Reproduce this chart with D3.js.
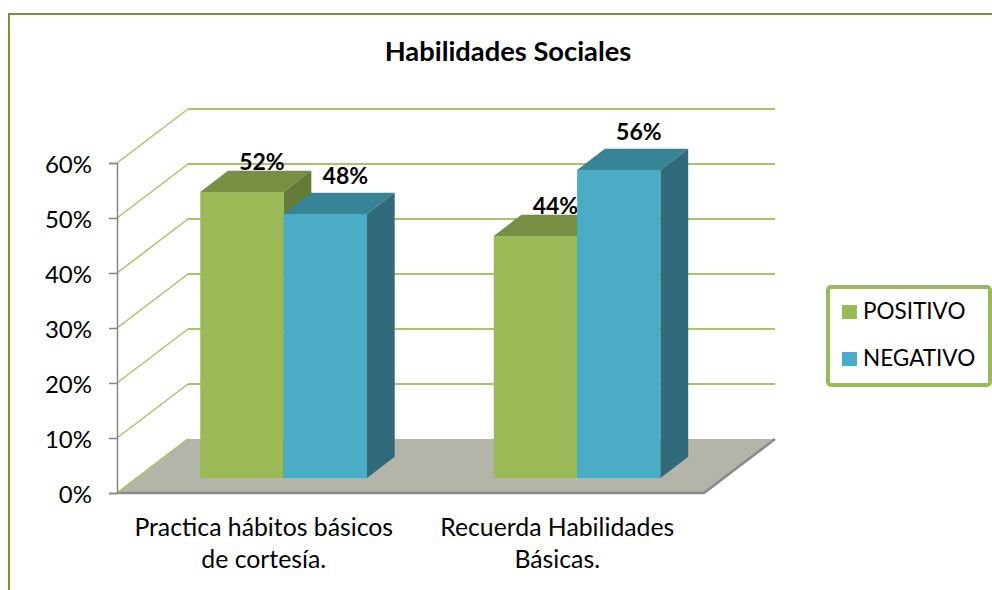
<!DOCTYPE html>
<html>
<head>
<meta charset="utf-8">
<script src="https://cdn.jsdelivr.net/npm/d3@7"></script>
<style>
  body { margin: 0; background: #fff; }
  svg { display: block; font-family: Lato, "Noto Sans", sans-serif; }
</style>
</head>
<body>
<div id="chart"></div>
<script>
// data
const title = "Habilidades Sociales";
const categories = ["Practica hábitos básicos de cortesía.", "Recuerda Habilidades Básicas."];
const seriesNames = ["POSITIVO", "NEGATIVO"];
const positivo = [0.52, 0.44];
const negativo = [0.48, 0.56];
const yTicks = [0, 0.1, 0.2, 0.3, 0.4, 0.5, 0.6];

const width = 992, height = 590;
const colors = {
  POSITIVO: { front: "#9bbb59", top: "#778f42", side: "#637b36" },
  NEGATIVO: { front: "#4bacc6", top: "#388497", side: "#316b7b" }
};
// 3D depth offset of the back wall
const depth = { dx: 71, dy: -54 };
const barZ = [0.28, 0.67]; // bars sit in the middle of the floor depth
const labelLift = [22, 30];

const svg = d3.select("#chart").append("svg")
  .attr("width", width).attr("height", height);

// outer border (cut off at right & bottom like the screenshot)
svg.append("path")
  .attr("d", "M9,600 L9,14 L1000,14")
  .attr("fill", "none").attr("stroke", "#77933c").attr("stroke-width", 2);

svg.append("text")
  .attr("x", 508).attr("y", 61)
  .attr("text-anchor", "middle")
  .attr("font-weight", "bold").attr("font-size", 27.3)
  .text(title);

const y = d3.scaleLinear().domain([0, 0.6]).range([493, 163]);
const x = d3.scaleBand().domain(categories).range([117, 704]);
const xs = d3.scaleBand().domain(seriesNames).range([0, x.bandwidth()]).paddingOuter(0.76);

const P = (px, py, z) => [px + z * depth.dx, py + z * depth.dy];
const poly = pts => "M" + pts.map(p => p.join(",")).join("L") + "Z";

const gridColor = "#a6c46a";

// side wall grid lines
svg.append("g").selectAll("line").data(yTicks).join("line")
  .attr("x1", 117).attr("y1", d => y(d))
  .attr("x2", d => P(117, y(d), 1)[0]).attr("y2", d => P(117, y(d), 1)[1])
  .attr("stroke", gridColor).attr("stroke-width", 1.5);

// back wall grid lines
svg.append("g").selectAll("line").data(yTicks.filter(d => d > 0)).join("line")
  .attr("x1", P(117, 0, 1)[0]).attr("x2", P(704, 0, 1)[0])
  .attr("y1", d => P(0, y(d), 1)[1]).attr("y2", d => P(0, y(d), 1)[1])
  .attr("stroke", gridColor).attr("stroke-width", 2);

// floor
const y0 = y(0);
svg.append("path")
  .attr("d", poly([[117, y0], P(117, y0, 1), P(704, y0, 1), [704, y0]]))
  .attr("fill", "#b2b5a7");
svg.append("path")
  .attr("d", `M117,${y0}L704,${y0}L${P(704, y0, 1).join(",")}`)
  .attr("fill", "none").attr("stroke", "#8a8a8a").attr("stroke-width", 2.5);
svg.append("line")
  .attr("x1", 117).attr("y1", y0)
  .attr("x2", P(117, y0, 1)[0]).attr("y2", P(117, y0, 1)[1])
  .attr("stroke", gridColor).attr("stroke-width", 1.5);

// y axis
svg.append("g")
  .attr("transform", "translate(117,0)")
  .call(d3.axisLeft(y).tickValues(yTicks).tickFormat(d3.format(".0%")).tickSize(8).tickPadding(17))
  .call(g => g.select(".domain").attr("stroke", "#868686").attr("stroke-width", 1.5))
  .call(g => g.selectAll(".tick line").attr("stroke", "#868686").attr("stroke-width", 1.5))
  .call(g => g.selectAll(".tick text").attr("font-size", 24).attr("fill", "#000")
    .attr("font-family", "Lato, sans-serif").attr("dy", "0.4em"));

// bars
const bars = [];
categories.forEach((c, i) => {
  [positivo, negativo].forEach((vals, s) => {
    bars.push({ cat: c, name: seriesNames[s], s, v: vals[i] });
  });
});

const gBars = svg.append("g");
bars.forEach(b => {
  const xl = x(b.cat) + xs(b.name), xr = xl + xs.bandwidth();
  const yt = y(b.v), yb = y(0);
  const [z0, z1] = barZ;
  const col = colors[b.name];
  const g = gBars.append("g");
  g.append("path").attr("d", poly([P(xl, yb, z0), P(xr, yb, z0), P(xr, yt, z0), P(xl, yt, z0)]))
    .attr("fill", col.front);
  g.append("path").attr("d", poly([P(xl, yt, z0), P(xr, yt, z0), P(xr, yt, z1), P(xl, yt, z1)]))
    .attr("fill", col.top);
  g.append("path").attr("d", poly([P(xr, yb, z0), P(xr, yt, z0), P(xr, yt, z1), P(xr, yb, z1)]))
    .attr("fill", col.side);
  const [lx, ly] = P((xl + xr) / 2 + 20, yt, z0);
  g.append("text")
    .attr("x", lx).attr("y", ly - labelLift[b.s])
    .attr("text-anchor", "middle")
    .attr("font-weight", "bold").attr("font-size", 23)
    .text(d3.format(".0%")(b.v));
});

// category labels, wrapped
svg.append("g").selectAll("text").data(categories).join("text")
  .attr("x", d => x(d) + x.bandwidth() / 2)
  .attr("y", 536)
  .attr("text-anchor", "middle")
  .attr("font-size", 24.8)
  .each(function (d) {
    const t = d3.select(this);
    const words = d.split(" ");
    let line = [];
    let tspan = t.append("tspan").attr("x", t.attr("x")).attr("dy", 0);
    words.forEach(w => {
      line.push(w);
      tspan.text(line.join(" "));
      if (tspan.node().getComputedTextLength() > 272 && line.length > 1) {
        line.pop();
        tspan.text(line.join(" "));
        line = [w];
        tspan = t.append("tspan").attr("x", t.attr("x")).attr("dy", 32).text(w);
      }
    });
  });

// legend
const lg = svg.append("g").attr("transform", "translate(826,285)");
lg.append("rect")
  .attr("x", 2).attr("y", 2).attr("width", 162).attr("height", 98).attr("rx", 3)
  .attr("fill", "#fff").attr("stroke", "#9bbb59").attr("stroke-width", 4);
const li = lg.selectAll("g.item").data(seriesNames).join("g")
  .attr("class", "item")
  .attr("transform", (d, i) => `translate(16,${20 + i * 47})`);
li.append("rect").attr("width", 15).attr("height", 14).attr("fill", d => colors[d].front);
li.append("text").attr("x", 21).attr("y", 14).attr("font-size", 22.5).text(d => d);
</script>
</body>
</html>
